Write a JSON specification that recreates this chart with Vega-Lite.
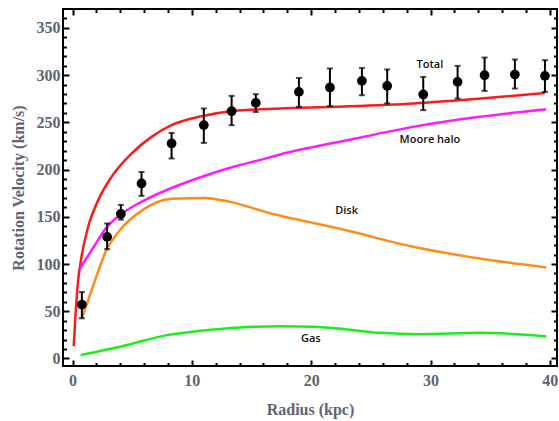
{
  "$schema": "https://vega.github.io/schema/vega-lite/v6.json",
  "autosize": {"type": "none"},
  "padding": {"left": 63, "top": 9, "right": 2, "bottom": 55},
  "width": 494,
  "height": 357,
  "config": {
    "view": {"stroke": "black", "strokeWidth": 2},
    "axis": {
      "domain": false,
      "grid": false,
      "tickColor": "black",
      "tickWidth": 2,
      "labelFont": "Liberation Serif",
      "labelFontWeight": "bold",
      "labelFontSize": 16,
      "labelColor": "#5f6472",
      "titleFont": "Liberation Serif",
      "titleFontWeight": "bold",
      "titleFontSize": 16,
      "titleColor": "#5f6472"
    }
  },
  "datasets": {
    "curves": [
      {"series": "Total", "r": 0.1, "v": 13},
      {"series": "Total", "r": 0.2, "v": 36},
      {"series": "Total", "r": 0.42, "v": 76},
      {"series": "Total", "r": 0.75, "v": 107.6},
      {"series": "Total", "r": 1.31, "v": 139.3},
      {"series": "Total", "r": 2.15, "v": 167.6},
      {"series": "Total", "r": 3.27, "v": 192.3},
      {"series": "Total", "r": 4.95, "v": 217},
      {"series": "Total", "r": 6.62, "v": 234.6},
      {"series": "Total", "r": 8.3, "v": 247},
      {"series": "Total", "r": 10.8, "v": 256.5},
      {"series": "Total", "r": 13.46, "v": 262},
      {"series": "Total", "r": 17.4, "v": 264.6},
      {"series": "Total", "r": 22, "v": 266.5},
      {"series": "Total", "r": 28.6, "v": 270},
      {"series": "Total", "r": 34, "v": 275},
      {"series": "Total", "r": 39.6, "v": 281},
      {"series": "Moore halo", "r": 0.62, "v": 95.3},
      {"series": "Moore halo", "r": 1.73, "v": 117},
      {"series": "Moore halo", "r": 2.8, "v": 138},
      {"series": "Moore halo", "r": 4.1, "v": 153},
      {"series": "Moore halo", "r": 5.78, "v": 165.8},
      {"series": "Moore halo", "r": 8.5, "v": 181.5},
      {"series": "Moore halo", "r": 11.1, "v": 193.5},
      {"series": "Moore halo", "r": 13.5, "v": 203},
      {"series": "Moore halo", "r": 16, "v": 211},
      {"series": "Moore halo", "r": 17.4, "v": 216},
      {"series": "Moore halo", "r": 23, "v": 231},
      {"series": "Moore halo", "r": 28.55, "v": 245.2},
      {"series": "Moore halo", "r": 34.1, "v": 255.8},
      {"series": "Moore halo", "r": 39.7, "v": 263.9},
      {"series": "Disk", "r": 0.8, "v": 43},
      {"series": "Disk", "r": 1.73, "v": 77},
      {"series": "Disk", "r": 2.85, "v": 115},
      {"series": "Disk", "r": 3.96, "v": 135.8},
      {"series": "Disk", "r": 5.8, "v": 156.5},
      {"series": "Disk", "r": 8.3, "v": 169},
      {"series": "Disk", "r": 11.09, "v": 170},
      {"series": "Disk", "r": 13.2, "v": 165.8},
      {"series": "Disk", "r": 16.8, "v": 153},
      {"series": "Disk", "r": 19.6, "v": 145},
      {"series": "Disk", "r": 22.5, "v": 137},
      {"series": "Disk", "r": 28.55, "v": 118.2},
      {"series": "Disk", "r": 34.1, "v": 105.8},
      {"series": "Disk", "r": 39.7, "v": 96.3},
      {"series": "Gas", "r": 0.67, "v": 3.5},
      {"series": "Gas", "r": 4.5, "v": 14},
      {"series": "Gas", "r": 7.9, "v": 24.7},
      {"series": "Gas", "r": 10.7, "v": 29.2},
      {"series": "Gas", "r": 14, "v": 32.8},
      {"series": "Gas", "r": 17.4, "v": 34.2},
      {"series": "Gas", "r": 20.2, "v": 33.5},
      {"series": "Gas", "r": 23, "v": 30.7},
      {"series": "Gas", "r": 25.8, "v": 27.1},
      {"series": "Gas", "r": 29.1, "v": 25.7},
      {"series": "Gas", "r": 34.1, "v": 27.1},
      {"series": "Gas", "r": 39.7, "v": 23.6}
    ],
    "obs": [
      {"r": 0.78, "v": 57, "lo": 42.5, "hi": 70.3},
      {"r": 2.9, "v": 128.7, "lo": 115.7, "hi": 142.9},
      {"r": 4.05, "v": 153, "lo": 147, "hi": 162.6},
      {"r": 5.78, "v": 185.3, "lo": 172.1, "hi": 197.5},
      {"r": 8.3, "v": 227.6, "lo": 211.7, "hi": 238.8},
      {"r": 11.0, "v": 247, "lo": 228.2, "hi": 264.7},
      {"r": 13.33, "v": 261.8, "lo": 247, "hi": 278},
      {"r": 15.36, "v": 270.6, "lo": 261, "hi": 279.8},
      {"r": 18.97, "v": 282.2, "lo": 266.4, "hi": 297},
      {"r": 21.57, "v": 286.9, "lo": 267.1, "hi": 307},
      {"r": 24.25, "v": 293.9, "lo": 278.7, "hi": 307.6},
      {"r": 26.37, "v": 288.6, "lo": 270, "hi": 306},
      {"r": 29.39, "v": 279.5, "lo": 262.9, "hi": 298.1},
      {"r": 32.27, "v": 292.8, "lo": 275.2, "hi": 309.8},
      {"r": 34.53, "v": 299.9, "lo": 283.3, "hi": 318.6},
      {"r": 37.07, "v": 300.6, "lo": 285.8, "hi": 316.5},
      {"r": 39.59, "v": 299.2, "lo": 282.2, "hi": 315.8}
    ],
    "labels": [
      {"t": "Total", "r": 29.95, "v": 310.5},
      {"t": "Moore halo", "r": 29.95, "v": 231},
      {"t": "Disk", "r": 22.97, "v": 156.2},
      {"t": "Gas", "r": 19.97, "v": 20.4}
    ]
  },
  "resolve": {"axis": {"x": "independent", "y": "independent"}},
  "layer": [
    {
      "data": {"name": "curves"},
      "mark": {"type": "line", "strokeWidth": 2.5, "interpolate": "monotone"},
      "encoding": {
        "x": {"field": "r", "type": "quantitative",
              "scale": {"domain": [-0.8, 40.6], "nice": false, "zero": false},
              "axis": {"orient": "bottom", "values": [0, 10, 20, 30, 40], "tickSize": -6, "labelPadding": 12, "title": "Radius (kpc)", "titlePadding": 13}},
        "y": {"field": "v", "type": "quantitative",
              "scale": {"domain": [-8, 370], "nice": false, "zero": false},
              "axis": {"orient": "left", "values": [0, 50, 100, 150, 200, 250, 300, 350], "tickSize": -6, "labelPadding": 9, "title": "Rotation Velocity (km/s)", "titlePadding": 10}},
        "color": {"field": "series", "type": "nominal",
                  "scale": {"domain": ["Total", "Moore halo", "Disk", "Gas"], "range": ["#ff1a1a", "#ff1aff", "#ff8c1a", "#1aee1a"]},
                  "legend": null},
        "detail": {"field": "series"}
      }
    },
    {
      "data": {"name": "obs"},
      "mark": {"type": "rule", "strokeWidth": 2, "color": "black"},
      "encoding": {
        "x": {"field": "r", "type": "quantitative",
              "axis": {"orient": "bottom", "values": [2, 4, 6, 8, 12, 14, 16, 18, 22, 24, 26, 28, 32, 34, 36, 38], "tickSize": -3.5, "labels": false, "title": null}},
        "y": {"field": "lo", "type": "quantitative",
              "axis": {"orient": "left", "values": [10, 20, 30, 40, 60, 70, 80, 90, 110, 120, 130, 140, 160, 170, 180, 190, 210, 220, 230, 240, 260, 270, 280, 290, 310, 320, 330, 340, 360], "tickSize": -3.5, "labels": false, "title": null}},
        "y2": {"field": "hi"}
      }
    },
    {
      "data": {"name": "obs"},
      "mark": {"type": "point", "filled": true, "color": "black", "opacity": 1, "size": 95},
      "encoding": {
        "x": {"field": "r", "type": "quantitative",
              "axis": {"orient": "top", "values": [0, 10, 20, 30, 40], "tickSize": -6, "labels": false, "title": null}},
        "y": {"field": "v", "type": "quantitative",
              "axis": {"orient": "right", "values": [0, 50, 100, 150, 200, 250, 300, 350], "tickSize": -6, "labels": false, "title": null}}
      }
    },
    {
      "data": {"name": "obs"},
      "mark": {"type": "tick", "orient": "horizontal", "color": "black", "size": 6, "thickness": 2},
      "encoding": {
        "x": {"field": "r", "type": "quantitative",
              "axis": {"orient": "top", "values": [2, 4, 6, 8, 12, 14, 16, 18, 22, 24, 26, 28, 32, 34, 36, 38], "tickSize": -3.5, "labels": false, "title": null}},
        "y": {"field": "hi", "type": "quantitative",
              "axis": {"orient": "right", "values": [10, 20, 30, 40, 60, 70, 80, 90, 110, 120, 130, 140, 160, 170, 180, 190, 210, 220, 230, 240, 260, 270, 280, 290, 310, 320, 330, 340, 360], "tickSize": -3.5, "labels": false, "title": null}}
      }
    },
    {
      "data": {"name": "obs"},
      "mark": {"type": "tick", "orient": "horizontal", "color": "black", "size": 6, "thickness": 2},
      "encoding": {
        "x": {"field": "r", "type": "quantitative", "axis": null},
        "y": {"field": "lo", "type": "quantitative", "axis": null}
      }
    },
    {
      "data": {"name": "labels"},
      "mark": {"type": "text", "font": "Open Sans", "fontSize": 11, "fontWeight": 600, "color": "#111111"},
      "encoding": {
        "x": {"field": "r", "type": "quantitative", "axis": null},
        "y": {"field": "v", "type": "quantitative", "axis": null},
        "text": {"field": "t"}
      }
    }
  ]
}
